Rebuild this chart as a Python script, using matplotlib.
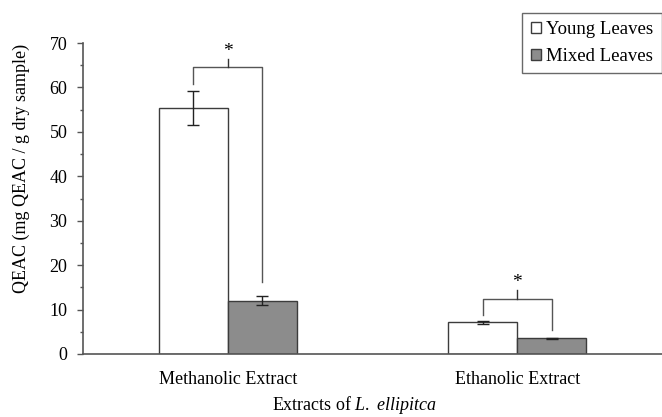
import matplotlib
matplotlib.use('Agg')
import matplotlib.pyplot as plt
import numpy as np
from matplotlib.patches import Patch

plt.rcParams['font.family'] = ['Liberation Serif', 'DejaVu Serif']
plt.rcParams['mathtext.fontset'] = 'custom'
plt.rcParams['mathtext.rm'] = 'Liberation Serif'
plt.rcParams['mathtext.it'] = 'Liberation Serif:italic'

groups = ['Methanolic Extract', 'Ethanolic Extract']
series = ['Young Leaves', 'Mixed Leaves']
young = [55.4, 7.1]
young_err = [3.9, 0.3]
mixed = [12.0, 3.5]
mixed_err = [1.0, 0.1]

# significance brackets: bar top line, left leg end, right leg end, tick top
bracket_top = [64.5, 12.3]
bracket_left = [60.8, 8.8]
bracket_right = [16.2, 5.4]
bracket_tick = [66.4, 14.4]

fig = plt.figure(figsize=(6.62, 4.17), dpi=100)
ax = fig.add_axes([83/662, 1-354/417, 579/662, 311/417])

x = np.arange(len(groups))
w = 0.238
edge = '#3c3c3c'
ax.bar(x - w/2, young, w, color='white', edgecolor=edge, linewidth=1.0, zorder=2)
ax.bar(x + w/2, mixed, w, color='#8c8c8c', edgecolor=edge, linewidth=1.0, zorder=2)
ax.errorbar(x - w/2, young, yerr=young_err, fmt='none', ecolor='#222222',
            elinewidth=1.0, capsize=4, capthick=1.0, zorder=3)
ax.errorbar(x + w/2, mixed, yerr=mixed_err, fmt='none', ecolor='#222222',
            elinewidth=1.0, capsize=4, capthick=1.0, zorder=3)

for i in range(len(groups)):
    xl, xr = x[i] - w/2, x[i] + w/2
    ax.plot([xl, xl, xr, xr], [bracket_left[i], bracket_top[i], bracket_top[i], bracket_right[i]],
            color='#555555', lw=1.0, zorder=3)
    ax.plot([x[i], x[i]], [bracket_top[i], bracket_tick[i]], color='#333333', lw=1.0, zorder=3)
    ax.text(x[i], bracket_tick[i] - 0.3, '*', ha='center', va='bottom', fontsize=14)

ax.set_xlim(-0.5, 1.5)
ax.set_ylim(0, 70)
ax.set_yticks(np.arange(0, 71, 10))
ax.set_yticks(np.arange(5, 70, 10), minor=True)
ax.set_xticks(x)
ax.set_xticklabels(groups, fontsize=13)
ax.tick_params(axis='x', length=0, pad=12)
ax.tick_params(axis='y', which='major', length=4.3, width=1.0, color='#555555', labelsize=13, pad=7)
ax.tick_params(axis='y', which='minor', length=2.2, width=1.0, color='#555555')

for s in ['top', 'right']:
    ax.spines[s].set_visible(False)
for s in ['left', 'bottom']:
    ax.spines[s].set_color('#555555')
    ax.spines[s].set_linewidth(1.2)

ax.set_ylabel('QEAC (mg QEAC / g dry sample)', fontsize=13)
ax.yaxis.set_label_coords(-0.0915, 0.598)
ax.set_xlabel('Extracts of $L.$ $ellipitca$', fontsize=13)
ax.xaxis.set_label_coords(0.468, -0.128)

handles = [Patch(facecolor='white', edgecolor=edge, label=series[0]),
           Patch(facecolor='#8c8c8c', edgecolor=edge, label=series[1])]
leg = fig.legend(handles=handles, loc='upper right', bbox_to_anchor=(1.0, 1 - 13/417),
                 fontsize=13.5, frameon=True, fancybox=False, edgecolor='#444444',
                 handlelength=0.55, handleheight=0.55, handletextpad=0.3,
                 borderaxespad=0, borderpad=0.45, labelspacing=0.5)
leg.get_frame().set_linewidth(1.0)

fig.savefig('out.png', dpi=100)
